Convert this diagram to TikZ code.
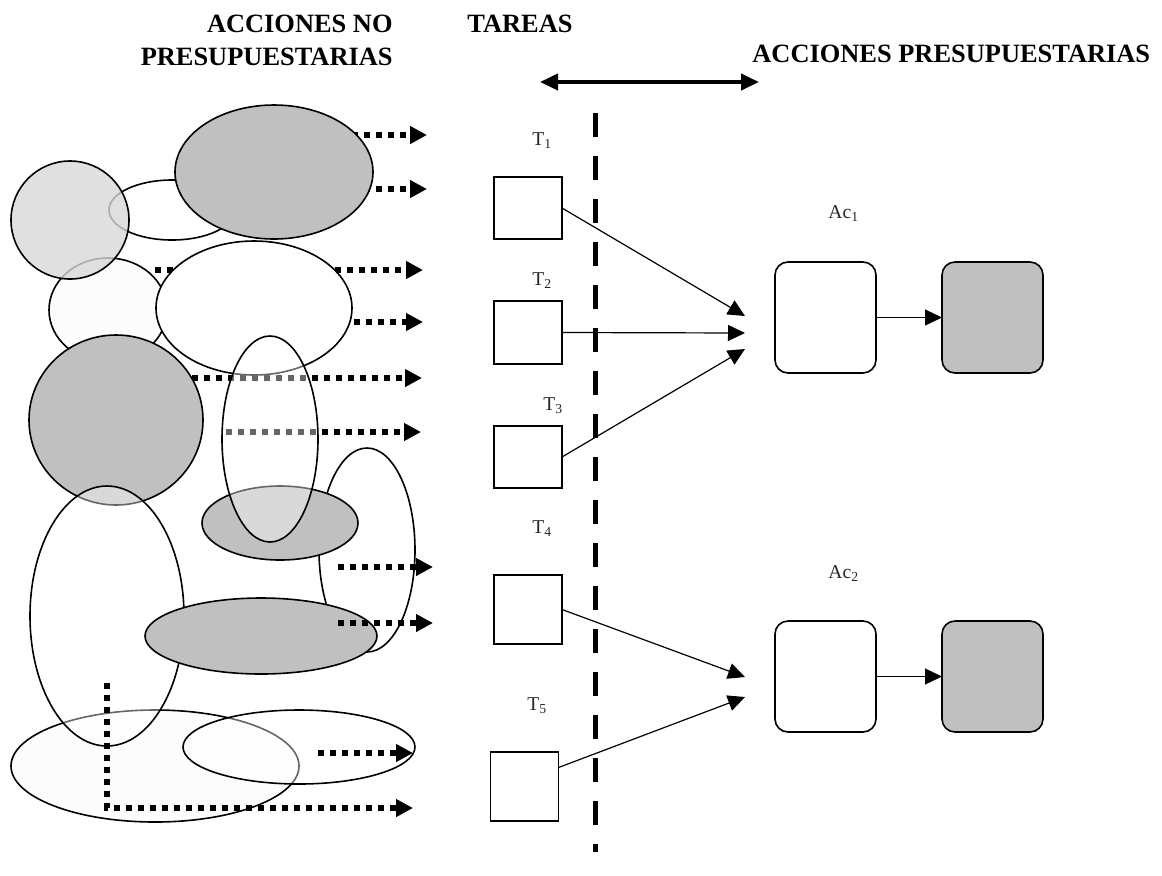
\documentclass[tikz,border=0pt]{standalone}
\usepackage{fontspec}
\setmainfont{Liberation Serif}
\usetikzlibrary{arrows.meta}
\definecolor{shade}{RGB}{192,192,192}
\definecolor{stipple}{RGB}{216,216,216}
\tikzset{
  blob/.style={draw,line width=0.8pt},
  dotarrow/.style={line width=3pt,dash pattern=on 3pt off 3pt,-{Triangle[length=8.5pt,width=8.5pt]}},
  tbox/.style={draw,line width=0.8pt,minimum width=34pt,inner sep=0pt,outer sep=0pt},
  acbox/.style={draw,line width=0.8pt,rounded corners=6.5pt,minimum width=50.5pt,minimum height=55.5pt,inner sep=0pt,outer sep=0pt},
  link/.style={line width=0.6pt,-{Triangle[length=8.5pt,width=8pt]}},
  lbl/.style={font=\fontsize{9.8}{11}\selectfont,text=black!85,inner sep=0pt,anchor=base west},
  head/.style={font=\fontsize{13.2}{16.5}\selectfont\bfseries,inner sep=0pt}
}
\begin{document}
\begin{tikzpicture}[x=0.5pt,y=-0.5pt]
\useasboundingbox (0,0) rectangle (1162,875);
\node[head,anchor=north east,align=right] (nopres) at (393,15) {ACCIONES NO\\PRESUPUESTARIAS};
\node[head,anchor=base west] (tareas) at (467,32) {TAREAS};
\node[head,anchor=base west] (pres) at (752,62) {ACCIONES PRESUPUESTARIAS};
\coordinate (spanl) at (540,82);
\coordinate (spanr) at (759,82);
\draw[line width=2pt,{Triangle[length=9pt,width=8pt]}-{Triangle[length=9pt,width=8pt]}] (spanl) -- (spanr);

\draw[dotarrow] (340,135) -- (427,135);
\draw[dotarrow] (340,189) -- (427,189);
\draw[blob,fill=white] (172,210) ellipse [x radius=63,y radius=30];
\draw[blob,fill=shade] (274,172) ellipse [x radius=99,y radius=67];
\draw[blob,fill=white!99!black] (108,310) ellipse [x radius=59,y radius=52];
\draw[blob,fill=stipple,fill opacity=0.8] (70,220) circle [radius=59];
\draw[dotarrow] (155,270) -- (423,270);
\draw[dotarrow] (330,322) -- (423,322);
\draw[blob,fill=white] (254,308) ellipse [x radius=98,y radius=67];
\draw[dotarrow] (180,378) -- (422,378);
\draw[blob,fill=shade] (116,420) ellipse [x radius=87,y radius=85];
\draw[blob,fill=white] (367,550) ellipse [x radius=48,y radius=102];
\draw[blob,fill=shade] (280,523) ellipse [x radius=78,y radius=37];
\draw[dotarrow] (226,432) -- (421,432);
\draw[blob,fill=white,fill opacity=0.4] (270,439) ellipse [x radius=48,y radius=103];
\draw[blob,fill=white!99!black] (155,766) ellipse [x radius=144,y radius=56];
\draw[blob,fill=white,fill opacity=0.4] (107,616) ellipse [x radius=77,y radius=130];
\draw[blob,fill=shade] (261,636) ellipse [x radius=116,y radius=38];
\draw[blob,fill=white,fill opacity=0.4] (299,747) ellipse [x radius=116,y radius=37];
\draw[dotarrow] (338,567) -- (433,567);
\draw[dotarrow] (338,623) -- (433,623);
\draw[dotarrow] (318,753) -- (413,753);
\draw[dotarrow] (107,683) -- (107,808) -- (413,808);

\draw[line width=2.5pt,dash pattern=on 12pt off 9.5pt] (595,113) -- (595,852);

\node[tbox,minimum height=31pt] (t1) at (528,208) {};
\node[tbox,minimum height=31.5pt] (t2) at (528,332.5) {};
\node[tbox,minimum height=31pt] (t3) at (528,457) {};
\node[tbox,minimum height=34.5pt] (t4) at (528,609.5) {};
\node[tbox,minimum height=34.5pt] (t5) at (524.5,786.5) {};
\node[lbl] (lt1) at (532,145) {T\textsubscript{1}};
\node[lbl] (lt2) at (532,285) {T\textsubscript{2}};
\node[lbl] (lt3) at (543,410) {T\textsubscript{3}};
\node[lbl] (lt4) at (532,533) {T\textsubscript{4}};
\node[lbl] (lt5) at (527,710) {T\textsubscript{5}};

\node[acbox] (ac1) at (825.5,317.5) {};
\node[acbox,fill=shade] (g1) at (992.5,317.5) {};
\node[acbox] (ac2) at (825.5,676.5) {};
\node[acbox,fill=shade] (g2) at (992.5,676.5) {};
\node[lbl] (lac1) at (828,218) {Ac\textsubscript{1}};
\node[lbl] (lac2) at (828,578) {Ac\textsubscript{2}};

\coordinate (in1a) at (745,316);
\coordinate (in1b) at (745,333);
\coordinate (in1c) at (745,349);
\coordinate (in2a) at (745,677);
\coordinate (in2b) at (745,697);
\draw[link] (t1.east) -- (in1a);
\draw[link] (t2.east) -- (in1b);
\draw[link] (t3.east) -- (in1c);
\draw[link] (t4.east) -- (in2a);
\draw[link] ([yshift=9.5pt]t5.east) -- (in2b);
\draw[link] (ac1) -- (g1);
\draw[link] (ac2) -- (g2);
\end{tikzpicture}
\end{document}
